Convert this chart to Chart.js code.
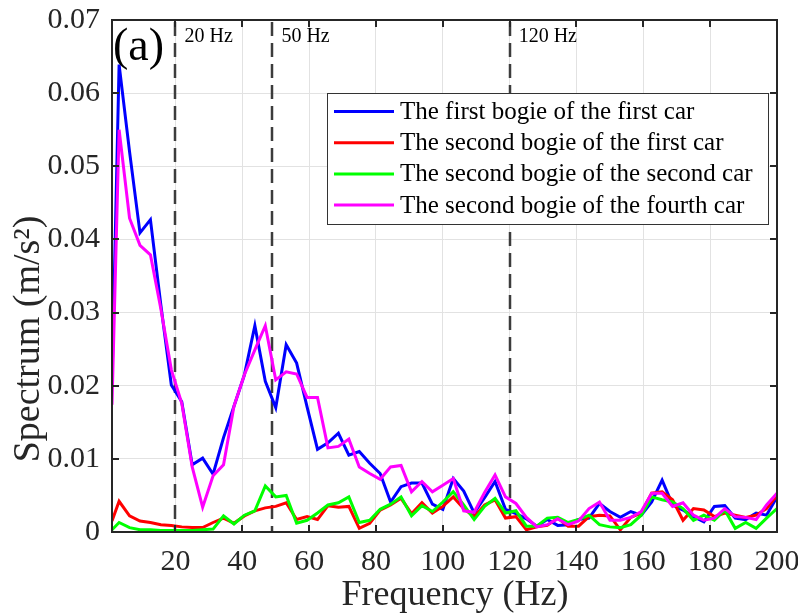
<!DOCTYPE html>
<html>
<head>
<meta charset="utf-8">
<script src="https://cdn.jsdelivr.net/npm/chart.js@4.4.1/dist/chart.umd.min.js"></script>
<style>
html,body{margin:0;padding:0;background:#fff;}
#wrap{width:798px;height:613px;}
</style>
</head>
<body>
<div id="wrap"><canvas id="c" width="798" height="613"></canvas></div>
<script>
const freq = [1,3.125,6.25,9.375,12.5,15.625,18.75,21.875,25,28.125,31.25,34.375,37.5,40.625,43.75,46.875,50,53.125,56.25,59.375,62.5,65.625,68.75,71.875,75,78.125,81.25,84.375,87.5,90.625,93.75,96.875,100,103.125,106.25,109.375,112.5,115.625,118.75,121.875,125,128.125,131.25,134.375,137.5,140.625,143.75,146.875,150,153.125,156.25,159.375,162.5,165.625,168.75,171.875,175,178.125,181.25,184.375,187.5,190.625,193.75,196.875,200];

const firstBogieFirstCar = [0.0204,0.0639,0.052,0.0409,0.0427,0.031,0.0201,0.0178,0.0092,0.0101,0.0079,0.0129,0.0172,0.0215,0.0282,0.0206,0.0170,0.0256,0.0231,0.0171,0.0113,0.0122,0.0135,0.0105,0.0110,0.0094,0.0080,0.0041,0.0062,0.0067,0.0067,0.0038,0.0031,0.0073,0.0056,0.0026,0.0047,0.0069,0.0031,0.0025,0.0018,0.0008,0.0017,0.0009,0.0010,0.0017,0.0019,0.0039,0.0028,0.0020,0.0028,0.0023,0.0041,0.0071,0.0037,0.0030,0.0021,0.0014,0.0035,0.0036,0.0019,0.0017,0.0026,0.0023,0.0048];

const secondBogieFirstCar = [0.0015,0.0042,0.0022,0.0015,0.0013,0.0010,0.0009,0.0007,0.0006,0.0006,0.0013,0.0019,0.0012,0.0022,0.0029,0.0033,0.0035,0.0040,0.0017,0.0021,0.0017,0.0036,0.0034,0.0035,0.0005,0.0012,0.0030,0.0037,0.0046,0.0025,0.0040,0.0026,0.0035,0.0048,0.0032,0.0021,0.0037,0.0044,0.0019,0.0021,0.0003,0.0007,0.0009,0.0019,0.0008,0.0008,0.0021,0.0023,0.0022,0.0003,0.0020,0.0026,0.0053,0.0055,0.0044,0.0016,0.0032,0.0030,0.0021,0.0026,0.0023,0.0020,0.0023,0.0032,0.0050];

const secondBogieSecondCar = [0.0003,0.0013,0.0006,0.0003,0.0003,0.0002,0.0002,0.0002,0.0002,0.0003,0.0004,0.0022,0.0011,0.0023,0.0029,0.0063,0.0048,0.0050,0.0012,0.0016,0.0026,0.0037,0.0040,0.0048,0.0013,0.0016,0.0031,0.0038,0.0048,0.0022,0.0036,0.0028,0.0041,0.0055,0.0037,0.0017,0.0035,0.0046,0.0026,0.0029,0.0008,0.0008,0.0019,0.0020,0.0013,0.0017,0.0023,0.0010,0.0007,0.0006,0.0010,0.0023,0.0048,0.0044,0.0041,0.0032,0.0016,0.0023,0.0016,0.0030,0.0005,0.0013,0.0005,0.0019,0.0032];

const secondBogieFourthCar = [0.0174,0.0550,0.0429,0.0392,0.0379,0.0305,0.0222,0.0176,0.0089,0.0034,0.0077,0.0092,0.0172,0.0215,0.0249,0.0282,0.0208,0.0219,0.0216,0.0184,0.0184,0.0115,0.0117,0.0127,0.0089,0.0080,0.0072,0.0089,0.0091,0.0055,0.0069,0.0055,0.0064,0.0073,0.0029,0.0027,0.0054,0.0078,0.0048,0.0039,0.0020,0.0007,0.0010,0.0018,0.0010,0.0015,0.0032,0.0041,0.0016,0.0016,0.0020,0.0028,0.0053,0.0053,0.0035,0.0040,0.0023,0.0016,0.0019,0.0032,0.0021,0.0020,0.0017,0.0037,0.0053];

const seriesLabels = ["The first bogie of the first car","The second bogie of the first car","The second bogie of the second car","The second bogie of the fourth car"];
const seriesColors = ["#0000ff","#ff0000","#00ff00","#ff00ff"];
const xTicks = [20,40,60,80,100,120,140,160,180,200];
const yTicks = [0,0.01,0.02,0.03,0.04,0.05,0.06,0.07];
const markerFreqs = [20,49,120];
const markerLabels = ["20 Hz","50 Hz","120 Hz"];
const xTitle = "Frequency (Hz)";
const yTitle = "Spectrum (m/s\u00b2)";
const panelLabel = "(a)";

const SERIF = "'Liberation Serif','Times New Roman',serif";
const allValues = [firstBogieFirstCar, secondBogieFirstCar, secondBogieSecondCar, secondBogieFourthCar];
const drawOrder = [3,2,1,0];

const datasets = allValues.map((vals, i) => ({
  label: seriesLabels[i],
  data: freq.map((f, j) => ({x: f, y: vals[j]})),
  borderColor: seriesColors[i],
  backgroundColor: seriesColors[i],
  borderWidth: 3,
  pointRadius: 0,
  tension: 0,
  fill: false,
  order: drawOrder[i]
}));

const decor = {
  id: 'decor',
  beforeDatasetsDraw(chart) {
    const {ctx, chartArea: a, scales: {x}} = chart;
    ctx.save();
    ctx.strokeStyle = '#3c3c3c';
    ctx.lineWidth = 2.5;
    ctx.setLineDash([14, 7]);
    markerFreqs.forEach((f) => {
      const px = Math.round(x.getPixelForValue(f));
      ctx.beginPath();
      ctx.moveTo(px, a.top + 2);
      ctx.lineTo(px, a.bottom);
      ctx.stroke();
    });
    ctx.restore();
  },
  afterDatasetsDraw(chart) {
    const {ctx, chartArea: a, scales: {x, y}} = chart;
    ctx.save();
    ctx.fillStyle = '#000';
    ctx.font = "20px " + SERIF;
    ctx.textAlign = 'left';
    ctx.textBaseline = 'alphabetic';
    markerFreqs.forEach((f, i) => {
      const px = x.getPixelForValue(f);
      ctx.fillText(markerLabels[i], px + 9, 42);
    });
    ctx.font = "46px " + SERIF;
    ctx.fillText(panelLabel, a.left + 1, 60);
    ctx.strokeStyle = '#262626';
    ctx.lineWidth = 2;
    ctx.setLineDash([]);
    ctx.strokeRect(a.left, a.top, a.right - a.left, a.bottom - a.top);
    ctx.beginPath();
    xTicks.forEach(v => {
      const px = Math.round(x.getPixelForValue(v));
      ctx.moveTo(px, a.bottom); ctx.lineTo(px, a.bottom - 7);
      ctx.moveTo(px, a.top); ctx.lineTo(px, a.top + 7);
    });
    yTicks.forEach(v => {
      const py = Math.round(y.getPixelForValue(v));
      ctx.moveTo(a.left, py); ctx.lineTo(a.left + 7, py);
      ctx.moveTo(a.right, py); ctx.lineTo(a.right - 7, py);
    });
    ctx.stroke();
    const lx = 327, ly = 93, lw = 441, lh = 131;
    ctx.fillStyle = '#fff';
    ctx.fillRect(lx, ly, lw, lh);
    ctx.strokeStyle = '#333';
    ctx.lineWidth = 1;
    ctx.strokeRect(lx + 0.5, ly + 0.5, lw, lh);
    ctx.font = "25px " + SERIF;
    ctx.textBaseline = 'middle';
    seriesLabels.forEach((lab, i) => {
      const ry = 111.5 + i * 31.2;
      ctx.strokeStyle = seriesColors[i];
      ctx.lineWidth = 3;
      ctx.beginPath();
      ctx.moveTo(334, ry); ctx.lineTo(394, ry);
      ctx.stroke();
      ctx.fillStyle = '#000';
      ctx.fillText(lab, 400, ry + 1);
    });
    ctx.fillStyle = '#262626';
    ctx.font = "36px " + SERIF;
    ctx.textAlign = 'center';
    ctx.textBaseline = 'middle';
    ctx.fillText(xTitle, 455, 596);
    ctx.font = "38px " + SERIF;
    ctx.translate(29, 339);
    ctx.rotate(-Math.PI / 2);
    ctx.fillText(yTitle, 0, 0);
    ctx.restore();
  }
};

new Chart(document.getElementById('c'), {
  type: 'line',
  data: { datasets },
  options: {
    responsive: false,
    animation: false,
    devicePixelRatio: 1,
    layout: { padding: { left: 0, right: 21, top: 20, bottom: 0 } },
    plugins: { legend: { display: false }, tooltip: { enabled: false } },
    scales: {
      x: {
        type: 'linear',
        min: 1, max: 200,
        afterBuildTicks: (s) => { s.ticks = xTicks.map(v => ({value: v})); },
        afterFit: (s) => { s.height = 81; s.paddingLeft = 0; s.paddingRight = 0; },
        grid: { color: '#e2e2e2', lineWidth: 1, drawTicks: false },
        border: { display: false },
        ticks: { color: '#262626', font: { family: SERIF, size: 30 }, padding: 12, maxRotation: 0, autoSkip: false }
      },
      y: {
        min: 0, max: 0.07,
        afterBuildTicks: (s) => { s.ticks = yTicks.map(v => ({value: v})); },
        afterFit: (s) => { s.width = 112; s.paddingTop = 0; s.paddingBottom = 0; },
        grid: { color: '#e2e2e2', lineWidth: 1, drawTicks: false },
        border: { display: false },
        ticks: { color: '#262626', font: { family: SERIF, size: 30 }, padding: 12,
          callback: (v) => v === 0 ? '0' : v.toFixed(2) }
      }
    }
  },
  plugins: [decor]
});
</script>
</body>
</html>
